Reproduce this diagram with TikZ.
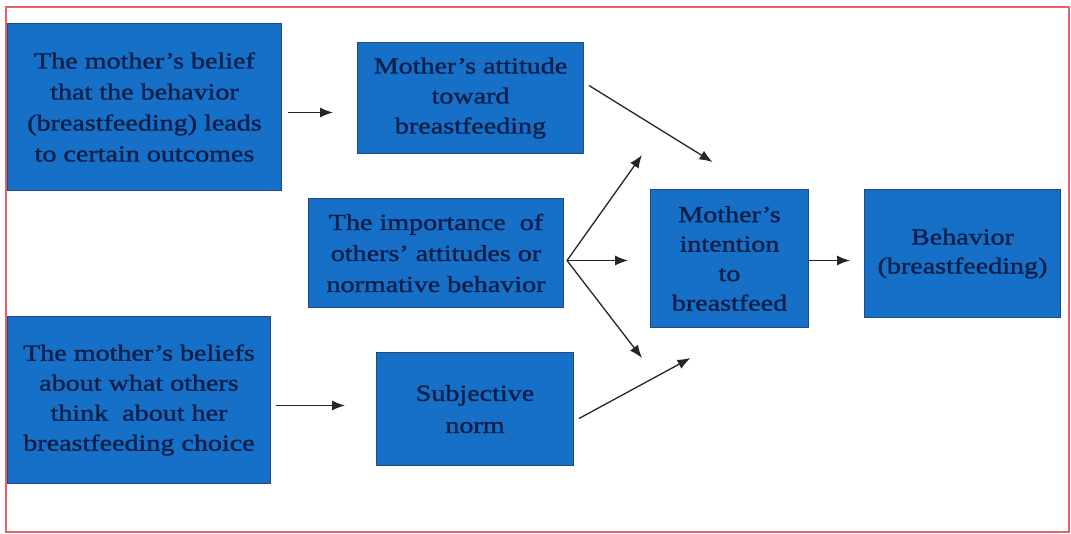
\documentclass[tikz,border=0pt]{standalone}
\usepackage{fontspec}
\setmainfont{Liberation Serif}[FakeStretch=1.22,FakeBold=1.3]
\usetikzlibrary{arrows.meta}
\definecolor{boxfill}{HTML}{1670C8}
\definecolor{boxline}{HTML}{1F4A80}
\definecolor{boxtext}{HTML}{0A1E48}
\definecolor{framered}{HTML}{E8606A}
\definecolor{arrowgray}{HTML}{252525}
\tikzset{
  box/.style={draw=boxline, line width=1pt, fill=boxfill, text=boxtext,
    anchor=north west, align=center, inner sep=0pt,
    font=\fontsize{23}{30}\selectfont},
  arr/.style={draw=arrowgray, line width=1.3pt,
    -{Latex[length=13pt,width=10pt]}}
}
\begin{document}
\begin{tikzpicture}[x=1pt,y=-1pt]
\useasboundingbox (0,0) rectangle (1071,533);
\fill[white] (0,0) rectangle (1071,533);
\draw[framered, line width=1.5pt] (6,7) rectangle (1069,532);

\node[box, minimum width=274pt, minimum height=167pt, font=\fontsize{23}{31}\selectfont] (b1) at (7,23)
  {The mother’s belief\\that the behavior\\(breastfeeding) leads\\to certain outcomes};
\node[box, minimum width=226pt, minimum height=111pt] (b2) at (357,42)
  {Mother’s attitude\\toward\\breastfeeding};
\node[box, minimum width=255pt, minimum height=109pt, font=\fontsize{23}{31}\selectfont] (b3) at (308,198)
  {The importance~ of\\others’ attitudes or\\normative behavior};
\node[box, minimum width=158pt, minimum height=138pt, font=\fontsize{23}{29.5}\selectfont] (b4) at (650,189)
  {Mother’s\\intention\\to\\breastfeed};
\node[box, minimum width=196pt, minimum height=128pt, font=\fontsize{23}{29}\selectfont] (b5) at (864,189)
  {Behavior\\(breastfeeding)};
\node[box, minimum width=263pt, minimum height=167pt] (b6) at (7,316)
  {The mother’s beliefs\\about what others\\think~ about her\\breastfeeding choice};
\node[box, minimum width=197pt, minimum height=113pt, font=\fontsize{23}{32}\selectfont] (b7) at (376,352)
  {Subjective\\norm};

\coordinate (fan) at ([xshift=3pt,yshift=-7.5pt]b3.east);

\draw[arr] ([xshift=6pt,yshift=-5.5pt]b1.east) -- ([xshift=-24pt,yshift=-14.5pt]b2.west);
\draw[arr] ([xshift=5pt,yshift=12.5pt]b2.east) -- ([xshift=-17pt,yshift=27pt]b4.north);
\draw[arr] (fan) -- ([xshift=-8pt,yshift=34pt]b4.north west);
\draw[arr] (fan) -- ([xshift=-22pt,yshift=-2pt]b4.west);
\draw[arr] (fan) -- ([xshift=-8pt,yshift=-30pt]b4.south west);
\draw[arr] ([xshift=5pt,yshift=-5.5pt]b6.east) -- ([xshift=-31pt,yshift=3.5pt]b7.west);
\draw[arr] ([xshift=5pt,yshift=-9.5pt]b7.east) -- ([xshift=-39pt,yshift=-30pt]b4.south);
\draw[arr] ([yshift=-2pt]b4.east) -- ([xshift=-14pt,yshift=-7pt]b5.west);
\end{tikzpicture}
\end{document}
